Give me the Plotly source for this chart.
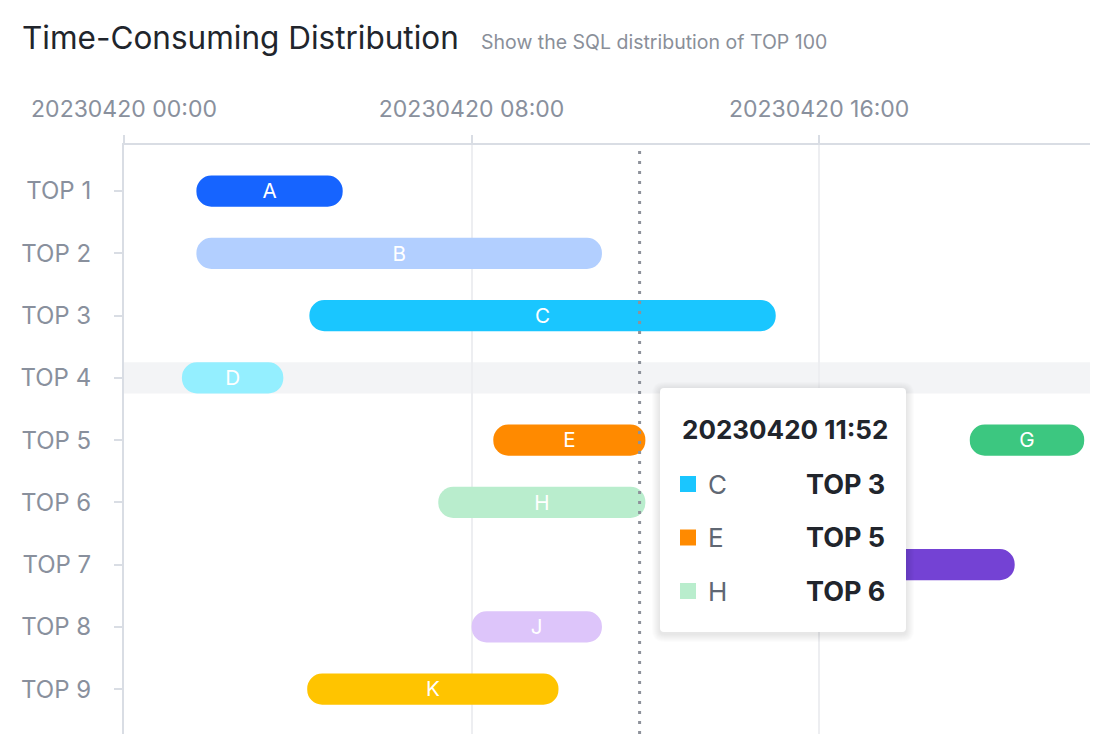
import plotly.graph_objects as go
import pandas as pd

# ---------------- data ----------------
names = ["A", "B", "C", "D", "E", "G", "H", "I", "J", "K"]
rows = [1, 2, 3, 4, 5, 5, 6, 7, 8, 9]
starts = ["2023-04-20 01:40", "2023-04-20 01:40", "2023-04-20 04:16", "2023-04-20 01:20",
          "2023-04-20 08:30", "2023-04-20 19:28", "2023-04-20 07:14", "2023-04-20 12:40",
          "2023-04-20 08:00", "2023-04-20 04:13"]
ends = ["2023-04-20 05:02", "2023-04-20 11:00", "2023-04-20 15:00", "2023-04-20 03:40",
        "2023-04-20 12:00", "2023-04-20 22:06", "2023-04-20 12:00", "2023-04-20 20:30",
        "2023-04-20 11:00", "2023-04-20 10:00"]
colors = ["#1664FF", "#B2CFFF", "#1AC6FF", "#94EFFF", "#FF8A00", "#3CC780", "#B9EDCD",
          "#7442D4", "#DDC5FA", "#FFC400"]
row_labels = ["TOP 1", "TOP 2", "TOP 3", "TOP 4", "TOP 5", "TOP 6", "TOP 7", "TOP 8", "TOP 9"]
x_tick_vals = ["2023-04-20 00:00", "2023-04-20 08:00", "2023-04-20 16:00"]
x_tick_text = ["20230420 00:00", "20230420 08:00", "20230420 16:00"]
x_range = ["2023-04-20 00:00", "2023-04-20 22:14"]
cursor_time = "2023-04-20 11:52"
cursor_label = "20230420 11:52"
highlight_row = 4

FONT = "Inter"
W, H = 1110, 754
ML, MR, MT, MB = 124, 20, 145, 20
PW, PH = W - ML - MR, H - MT - MB


def px(x):
    return (x - ML) / PW


def py(y):
    return (H - MB - y) / PH


s = pd.to_datetime(pd.Series(starts))
e = pd.to_datetime(pd.Series(ends))
dur_ms = ((e - s).dt.total_seconds() * 1000).tolist()

fig = go.Figure()
for i, n in enumerate(names):
    fig.add_trace(go.Bar(
        orientation="h",
        y=[rows[i]],
        x=[dur_ms[i]],
        base=[starts[i]],
        width=0.5,
        marker=dict(color=colors[i], cornerradius="50%", line=dict(width=0)),
        text=[n],
        textposition="inside",
        insidetextanchor="middle",
        textangle=0,
        constraintext="none",
        textfont=dict(family=FONT, size=23, color="white"),
        hoverinfo="skip",
        showlegend=False,
        name=n,
    ))

shapes = []
# highlighted row band
shapes.append(dict(type="rect", xref="paper", yref="y", x0=0, x1=1,
                   y0=highlight_row - 0.25, y1=highlight_row + 0.25,
                   fillcolor="#F3F4F6", line=dict(width=0), layer="below"))
# cursor line
shapes.append(dict(type="line", xref="x", yref="paper", x0=cursor_time, x1=cursor_time,
                   y0=0, y1=1, line=dict(color="#8E929B", width=3, dash="3px,7px")))


def rounded_path(x0, y0, x1, y1, r):
    # pixel coords -> paper path with rounded corners
    X = lambda v: px(v)
    Y = lambda v: py(v)
    return (f"M {X(x0 + r)},{Y(y0)} L {X(x1 - r)},{Y(y0)} Q {X(x1)},{Y(y0)} {X(x1)},{Y(y0 + r)} "
            f"L {X(x1)},{Y(y1 - r)} Q {X(x1)},{Y(y1)} {X(x1 - r)},{Y(y1)} "
            f"L {X(x0 + r)},{Y(y1)} Q {X(x0)},{Y(y1)} {X(x0)},{Y(y1 - r)} "
            f"L {X(x0)},{Y(y0 + r)} Q {X(x0)},{Y(y0)} {X(x0 + r)},{Y(y0)} Z")


# tooltip
tx0, ty0, tx1, ty1 = 660, 388, 906, 632
for k in range(8, 0, -1):
    shapes.append(dict(type="path", xref="paper", yref="paper",
                       path=rounded_path(tx0 - k, ty0 - k + 2, tx1 + k, ty1 + k + 2, 4 + k),
                       fillcolor="rgba(0,0,0,0.012)", line=dict(width=0)))
shapes.append(dict(type="path", xref="paper", yref="paper",
                   path=rounded_path(tx0, ty0, tx1, ty1, 4),
                   fillcolor="white", line=dict(width=0)))

annotations = []
annotations.append(dict(xref="paper", yref="paper", x=px(20), y=py(38), xanchor="left",
                        yanchor="middle", showarrow=False, text="Time-Consuming Distribution",
                        font=dict(family=FONT, size=31.5, color="#21252C")))
annotations.append(dict(xref="paper", yref="paper", x=px(479), y=py(42), xanchor="left",
                        yanchor="middle", showarrow=False, text="Show the SQL distribution of TOP 100",
                        font=dict(family=FONT, size=19.5, color="#8A8F99")))
annotations.append(dict(xref="paper", yref="paper", x=px(680), y=py(429), xanchor="left",
                        yanchor="middle", showarrow=False, text="<b>" + cursor_label + "</b>",
                        font=dict(family=FONT, size=26, color="#21252C")))

ct = pd.Timestamp(cursor_time)
hits = [i for i in range(len(names)) if s[i] <= ct <= e[i]]
hits.sort(key=lambda i: rows[i])
for j, i in enumerate(hits):
    yc = 484 + j * 53.5
    shapes.append(dict(type="rect", xref="paper", yref="paper",
                       x0=px(680), x1=px(696), y0=py(yc - 8), y1=py(yc + 8),
                       fillcolor=colors[i], line=dict(width=0)))
    annotations.append(dict(xref="paper", yref="paper", x=px(706), y=py(yc), xanchor="left",
                            yanchor="middle", showarrow=False, text=names[i],
                            font=dict(family=FONT, size=26, color="#606773")))
    annotations.append(dict(xref="paper", yref="paper", x=px(887), y=py(yc), xanchor="right",
                            yanchor="middle", showarrow=False,
                            text="<b>" + row_labels[rows[i] - 1] + "</b>",
                            font=dict(family=FONT, size=27, color="#21252C")))

fig.update_layout(
    width=W, height=H,
    margin=dict(l=ML, r=MR, t=MT, b=MB),
    paper_bgcolor="white", plot_bgcolor="white",
    barmode="overlay",
    hovermode=False,
    shapes=shapes,
    annotations=annotations,
    font=dict(family=FONT),
    xaxis=dict(type="date", side="top", range=x_range,
               tickmode="array", tickvals=x_tick_vals, ticktext=x_tick_text,
               showgrid=True, gridcolor="#EDEEF1", gridwidth=2,
               showline=True, linecolor="#D9DDE4", linewidth=2,
               ticks="outside", ticklen=8, tickwidth=2, tickcolor="#D9DDE4",
               tickfont=dict(family=FONT, size=23, color="#89909D"),
               ticklabelstandoff=9, zeroline=False, fixedrange=True),
    yaxis=dict(range=[9.72, 0.26], tickmode="array", tickvals=list(range(1, 10)),
               ticktext=row_labels, showgrid=False,
               showline=True, linecolor="#D9DDE4", linewidth=2,
               ticks="outside", ticklen=8, tickwidth=2, tickcolor="#D9DDE4",
               tickfont=dict(family=FONT, size=24, color="#89909D"),
               ticklabelstandoff=18, zeroline=False, fixedrange=True),
)

fig.write_html("out.html", config={"displayModeBar": False})
